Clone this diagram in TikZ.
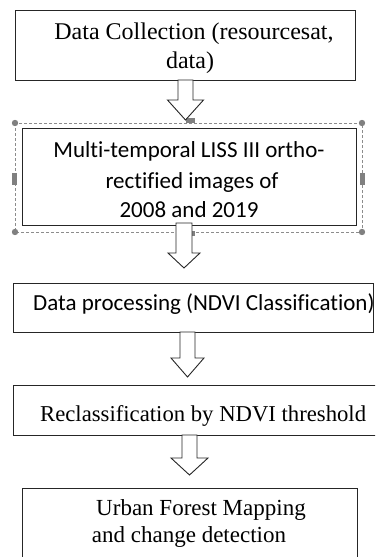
\documentclass[tikz,border=0pt]{standalone}
\usepackage{fontspec}
\setmainfont{Liberation Serif}
\newfontfamily\calfont[Ligatures={NoCommon}]{Carlito}
\newcommand\blockarr[6]{%
  \draw[barrow] ({#1-#5},#2) -- ({#1+#5},#2) -- ({#1+#5},#3) -- ({#1+#6},#3)
    -- (#1,#4) -- ({#1-#6},#3) -- ({#1-#5},#3) -- cycle;}
\begin{document}
\begin{tikzpicture}[x=1pt,y=-1pt,
  box/.style={draw=black!85,line width=1.1pt,inner sep=0pt,anchor=north west},
  barrow/.style={draw=black!85,line width=0.9pt,fill=white,line join=miter},
  sertext/.style={font=\fontsize{24}{28}\selectfont,anchor=base,inner sep=0pt},
  santext/.style={font=\calfont\fontsize{23}{27}\selectfont,anchor=base,inner sep=0pt},
  selframe/.style={draw=black!45,line width=0.7pt,dash pattern=on 3pt off 2pt},
  handle/.style={fill=black!50,draw=none}]
\useasboundingbox (0,0) rectangle (375,557);
\clip (0,0) rectangle (375,557);
% boxes
\node[box,minimum width=340pt,minimum height=70pt] (b1) at (15,10) {};
\node[box,minimum width=334pt,minimum height=97pt] (b2) at (22,128) {};
\node[box,minimum width=360pt,minimum height=49pt] (b3) at (13,283) {};
\node[box,minimum width=365pt,minimum height=50pt] (b4) at (13,385) {};
\node[box,minimum width=335pt,minimum height=92pt] (b5) at (22,488) {};
% selection frame of box 2
\draw[selframe] (15,123) rectangle (362,232);
\fill[handle] (15,123) circle (3.2) (362,123) circle (3.2) (15,232) circle (3.2) (362,232) circle (3.2);
\fill[handle] (186,118) rectangle (195,123);
\fill[handle] (186,231) rectangle (195,236);
\fill[handle] (12,173) rectangle (17,185);
\fill[handle] (360,173) rectangle (365,185);
% texts
\node[sertext] (t1a) at (194,39) {Data Collection (resourcesat,};
\node[sertext] (t1b) at (190,68) {data)};
\node[santext] (t2a) at (189,157) {Multi-temporal LISS III ortho-};
\node[santext] (t2b) at (192,188) {rectified images of};
\node[santext] (t2c) at (189,217) {2008 and 2019};
\node[santext,anchor=base west] (t3) at (33,310) {Data processing (NDVI Classification)};
\node[sertext,anchor=base west,font=\fontsize{22.7}{27}\selectfont] (t4) at (40,421) {Reclassification by NDVI threshold};
\node[sertext,font=\fontsize{23}{28}\selectfont] (t5a) at (201,515) {Urban Forest Mapping};
\node[sertext,font=\fontsize{23}{28}\selectfont] (t5b) at (189,542) {and change detection};
% block arrows
\blockarr{185.5}{80}{100}{120}{7.5}{18}
\blockarr{184}{223}{253}{268}{8}{16}
\blockarr{187.5}{332}{358}{377}{7.5}{16.5}
\blockarr{189.5}{435}{458}{475}{7.5}{18.5}
\end{tikzpicture}
\end{document}
